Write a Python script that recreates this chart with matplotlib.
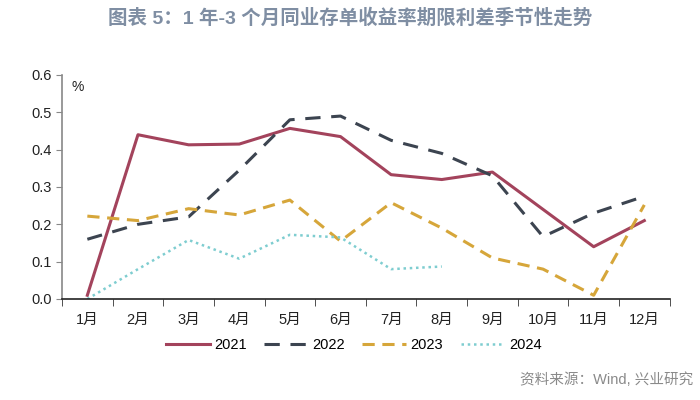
import matplotlib
matplotlib.use("Agg")
import matplotlib.pyplot as plt
import numpy as np

plt.rcParams['font.family'] = ['Liberation Sans', 'Noto Sans CJK SC', 'DejaVu Sans']

months = ["1月", "2月", "3月", "4月", "5月", "6月", "7月", "8月", "9月", "10月", "11月", "12月"]
y2021 = [0.01, 0.44, 0.413, 0.415, 0.457, 0.435, 0.333, 0.32, 0.34, 0.24, 0.14, 0.21]
y2022 = [0.16, 0.20, 0.22, 0.345, 0.48, 0.49, 0.425, 0.39, 0.33, 0.167, 0.23, 0.275]
y2023 = [0.222, 0.21, 0.242, 0.225, 0.265, 0.155, 0.258, 0.19, 0.11, 0.08, 0.01, 0.252]
y2024 = [0.0, 0.08, 0.158, 0.108, 0.172, 0.165, 0.08, 0.087]
yticks = [0.0, 0.1, 0.2, 0.3, 0.4, 0.5, 0.6]

fig = plt.figure(figsize=(7, 4), dpi=100)
ax = fig.add_axes([0.0886, 0.2525, 0.868, 0.56])
x = np.arange(1, 13)
ax.plot(x, y2021, color='#A3435C', lw=2.2, ls='-', label='2021')
ax.plot(x, y2022, color='#3C4450', lw=2.2, ls=(0, (5, 3.5)), label='2022')
ax.plot(x, y2023, color='#D6A63A', lw=2.2, ls=(0, (4, 2.5)), label='2023')
ax.plot(x[:len(y2024)], y2024, color='#7ECDD0', lw=1.8, ls=(0, (1, 1.5)), label='2024')

ax.set_xlim(0.5, 12.5)
ax.set_ylim(0, 0.6)
ax.set_yticks(yticks)
ax.set_yticklabels([f"{v:.1f}" for v in yticks], fontsize=10.5, color='#222222')
ax.set_xticks(x)
ax.set_xticklabels(months, fontsize=10.5, color='#222222')
ax.set_xticks(np.arange(0.5, 13, 1), minor=True)
ax.tick_params(axis='x', which='major', length=0, pad=10)
ax.tick_params(axis='x', which='minor', length=5, direction='out', color='#333333')
ax.tick_params(axis='y', length=4, direction='out', color='#888888')
for s in ['top', 'right']:
    ax.spines[s].set_visible(False)
ax.spines['left'].set_color('#888888')
ax.spines['left'].set_linewidth(1.2)
ax.spines['bottom'].set_color('#222222')
ax.spines['bottom'].set_linewidth(1.2)

ax.text(0.015, 0.945, '%', transform=ax.transAxes, fontsize=10, color='#222222', va='center')

ax.legend(loc='upper center', bbox_to_anchor=(0.48, -0.115), ncol=4, frameon=False,
          fontsize=10.5, handlelength=3.0, columnspacing=1.2, handletextpad=0.3)

fig.text(0.5, 0.955, '图表 5：1 年-3 个月同业存单收益率期限利差季节性走势', ha='center', va='center',
         fontsize=14, fontweight='bold', color='#7F8EA3')
fig.text(0.99, 0.05, '资料来源：Wind, 兴业研究', ha='right', va='center',
         fontsize=10.5, color='#8A8A8A')

fig.savefig('out.png', dpi=100)
